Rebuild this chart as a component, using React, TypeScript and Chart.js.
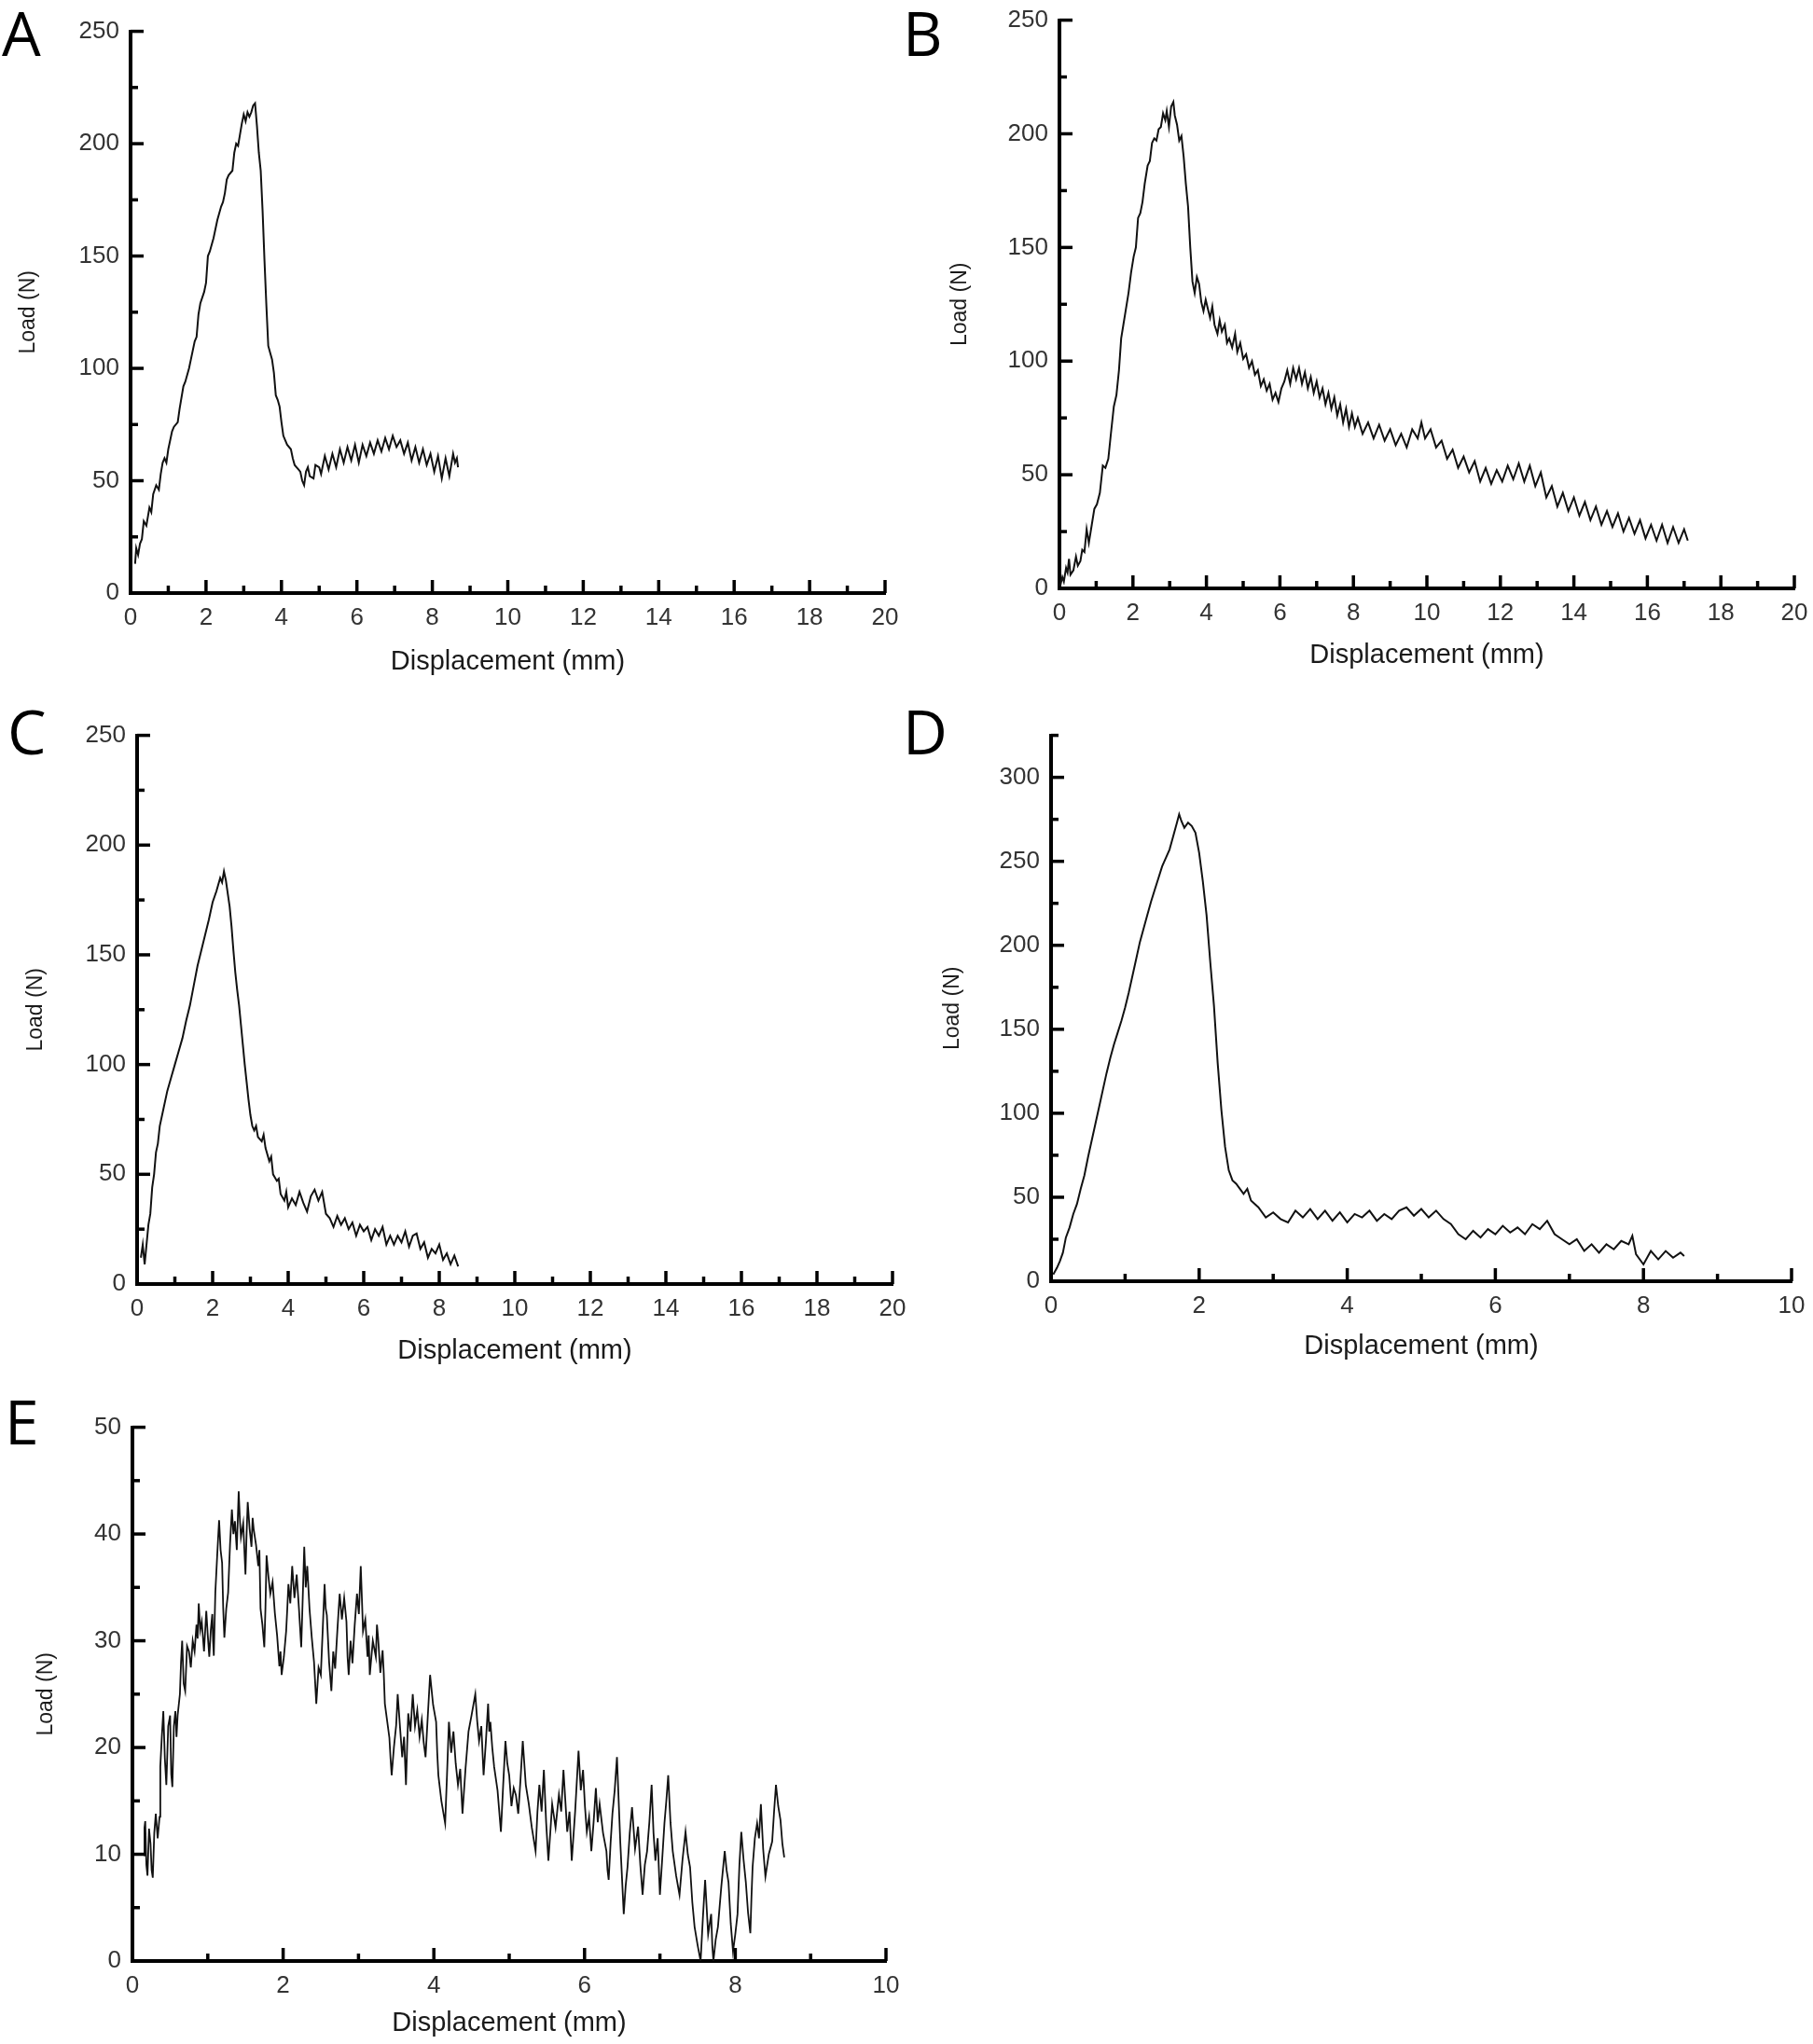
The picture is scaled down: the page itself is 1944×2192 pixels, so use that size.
import React, { useEffect, useRef } from "react";
import { Chart, registerables } from "chart.js";

Chart.register(...registerables);

// ---------- Data (displacement mm, load N) ----------
const A_X = [0.12, 0.15, 0.2, 0.25, 0.3, 0.35, 0.42, 0.5, 0.55, 0.6, 0.68, 0.75, 0.8, 0.85, 0.9, 0.95, 1.0, 1.1, 1.15, 1.25, 1.3, 1.4, 1.45, 1.55, 1.6, 1.7, 1.75, 1.8, 1.85, 1.95, 2.0, 2.05, 2.1, 2.2, 2.3, 2.4, 2.45, 2.5, 2.55, 2.6, 2.7, 2.75, 2.8, 2.85, 2.9, 2.95, 3.0, 3.05, 3.1, 3.15, 3.2, 3.25, 3.3, 3.35, 3.4, 3.45, 3.5, 3.55, 3.6, 3.65, 3.7, 3.75, 3.8, 3.85, 3.9, 3.95, 4.0, 4.05, 4.1, 4.15, 4.25, 4.3, 4.35, 4.4, 4.45, 4.5, 4.55, 4.6, 4.65, 4.7, 4.75, 4.85, 4.9, 5.0, 5.05, 5.15, 5.25, 5.35, 5.45, 5.55, 5.65, 5.75, 5.85, 5.95, 6.05, 6.15, 6.25, 6.35, 6.45, 6.55, 6.65, 6.75, 6.85, 6.95, 7.05, 7.15, 7.25, 7.35, 7.45, 7.55, 7.65, 7.75, 7.85, 7.95, 8.05, 8.15, 8.25, 8.35, 8.45, 8.55, 8.6, 8.65, 8.68];
const A_Y = [13, 20, 17, 22, 24, 32, 30, 38, 36, 44, 48, 46, 53, 58, 60, 58, 64, 72, 74, 76, 82, 92, 94, 100, 104, 112, 114, 124, 129, 134, 138, 150, 152, 158, 166, 172, 174, 178, 184, 186, 188, 196, 200, 199, 204, 209, 213, 210, 214, 212, 214, 217, 218, 208, 196, 188, 170, 148, 128, 110, 107, 104, 98, 88, 86, 83, 76, 70, 68, 66, 64, 60, 57, 56, 55, 54, 50, 48, 54, 56, 52, 51, 57, 56, 53, 61, 55, 62, 56, 64, 58, 65, 59, 66, 58, 66, 61, 67, 62, 68, 63, 69, 64, 70, 65, 68, 62, 67, 59, 65, 58, 64, 57, 62, 54, 61, 51, 60, 52, 62, 58, 60, 56];

const B_X = [0.02, 0.08, 0.12, 0.18, 0.22, 0.26, 0.3, 0.38, 0.45, 0.5, 0.57, 0.62, 0.68, 0.74, 0.8, 0.88, 0.95, 1.02, 1.1, 1.18, 1.25, 1.33, 1.4, 1.48, 1.55, 1.62, 1.68, 1.74, 1.8, 1.88, 1.95, 2.02, 2.08, 2.14, 2.2, 2.26, 2.32, 2.4, 2.46, 2.52, 2.58, 2.64, 2.7, 2.76, 2.82, 2.88, 2.92, 2.98, 3.04, 3.1, 3.14, 3.2, 3.26, 3.32, 3.38, 3.44, 3.5, 3.56, 3.62, 3.68, 3.74, 3.8, 3.86, 3.92, 3.98, 4.04, 4.1, 4.16, 4.22, 4.3, 4.36, 4.42, 4.5, 4.56, 4.62, 4.7, 4.78, 4.84, 4.92, 5.0, 5.08, 5.16, 5.24, 5.32, 5.4, 5.48, 5.56, 5.64, 5.72, 5.8, 5.88, 5.96, 6.04, 6.12, 6.2, 6.28, 6.36, 6.44, 6.52, 6.6, 6.68, 6.76, 6.84, 6.92, 7.0, 7.08, 7.16, 7.24, 7.32, 7.4, 7.48, 7.56, 7.64, 7.72, 7.8, 7.88, 7.96, 8.04, 8.12, 8.25, 8.4, 8.55, 8.7, 8.85, 9.0, 9.15, 9.3, 9.45, 9.6, 9.75, 9.85, 9.95, 10.1, 10.25, 10.4, 10.55, 10.7, 10.85, 11.0, 11.15, 11.3, 11.45, 11.6, 11.75, 11.9, 12.05, 12.2, 12.35, 12.5, 12.65, 12.8, 12.95, 13.1, 13.25, 13.4, 13.55, 13.7, 13.85, 14.0, 14.15, 14.3, 14.45, 14.6, 14.75, 14.9, 15.05, 15.2, 15.35, 15.5, 15.65, 15.8, 15.95, 16.1, 16.25, 16.4, 16.55, 16.7, 16.85, 17.0, 17.1];
const B_Y = [1, 5, 3, 9, 7, 13, 6, 8, 14, 10, 12, 17, 16, 26, 20, 28, 35, 37, 42, 54, 53, 57, 68, 80, 85, 96, 110, 116, 122, 130, 139, 146, 150, 163, 165, 170, 178, 186, 188, 196, 198, 197, 202, 203, 209, 206, 210, 203, 212, 214, 208, 204, 197, 199, 190, 178, 168, 150, 135, 130, 137, 134, 126, 122, 127, 123, 119, 124, 116, 112, 118, 113, 116, 108, 110, 106, 112, 104, 108, 101, 103, 97, 100, 94, 96, 89, 92, 87, 90, 83, 86, 82, 88, 91, 96, 90, 97, 92, 97, 90, 95, 88, 93, 86, 91, 84, 88, 81, 86, 79, 84, 76, 81, 73, 79, 71, 77, 71, 75, 68, 73, 66, 72, 65, 70, 63, 68, 62, 70, 66, 73, 66, 70, 62, 65, 57, 61, 53, 58, 51, 56, 47, 53, 46, 52, 47, 54, 48, 55, 47, 54, 45, 51, 40, 45, 36, 42, 34, 40, 32, 38, 30, 36, 28, 34, 27, 33, 25, 31, 24, 30, 22, 28, 21, 28, 20, 27, 20, 26, 21];

const C_X = [0.1, 0.15, 0.2, 0.25, 0.3, 0.35, 0.4, 0.45, 0.5, 0.55, 0.6, 0.7, 0.8, 0.9, 1.0, 1.1, 1.2, 1.3, 1.4, 1.5, 1.6, 1.7, 1.8, 1.9, 2.0, 2.1, 2.2, 2.25, 2.3, 2.35, 2.4, 2.45, 2.5, 2.55, 2.6, 2.65, 2.7, 2.75, 2.8, 2.85, 2.9, 2.95, 3.0, 3.05, 3.1, 3.15, 3.2, 3.3, 3.35, 3.4, 3.5, 3.55, 3.6, 3.7, 3.75, 3.8, 3.9, 3.95, 4.0, 4.1, 4.2, 4.3, 4.4, 4.5, 4.6, 4.7, 4.8, 4.9, 5.0, 5.1, 5.2, 5.3, 5.4, 5.5, 5.6, 5.7, 5.8, 5.9, 6.0, 6.1, 6.2, 6.3, 6.4, 6.5, 6.6, 6.7, 6.8, 6.9, 7.0, 7.1, 7.2, 7.3, 7.4, 7.5, 7.6, 7.7, 7.8, 7.9, 8.0, 8.1, 8.2, 8.3, 8.4, 8.5];
const C_Y = [12, 18, 9, 18, 27, 32, 44, 50, 60, 64, 72, 80, 88, 94, 100, 106, 112, 120, 127, 136, 145, 152, 159, 166, 174, 179, 185, 183, 188, 184, 178, 172, 163, 152, 142, 134, 127, 118, 109, 100, 92, 84, 77, 72, 70, 72, 67, 65, 68, 62, 56, 58, 50, 47, 48, 41, 38, 42, 35, 39, 36, 42, 37, 33, 40, 43, 38, 42, 32, 30, 26, 31, 27, 30, 25, 28, 22, 27, 24, 26, 20, 25, 22, 26, 18, 22, 18, 22, 19, 24, 17, 22, 23, 16, 19, 12, 16, 14, 18, 11, 14, 9, 13, 8];

const D_X = [0.03, 0.08, 0.12, 0.16, 0.2, 0.25, 0.3, 0.35, 0.4, 0.45, 0.5, 0.55, 0.6, 0.65, 0.7, 0.75, 0.8, 0.85, 0.9, 0.95, 1.0, 1.05, 1.1, 1.15, 1.2, 1.25, 1.3, 1.35, 1.4, 1.45, 1.5, 1.55, 1.6, 1.65, 1.7, 1.73, 1.76, 1.8, 1.85, 1.9, 1.95, 2.0, 2.05, 2.1, 2.15, 2.2, 2.25, 2.3, 2.35, 2.4, 2.45, 2.5, 2.55, 2.6, 2.65, 2.7, 2.8, 2.9, 3.0, 3.1, 3.2, 3.3, 3.4, 3.5, 3.6, 3.7, 3.8, 3.9, 4.0, 4.1, 4.2, 4.3, 4.4, 4.5, 4.6, 4.7, 4.8, 4.9, 5.0, 5.1, 5.2, 5.3, 5.4, 5.5, 5.6, 5.7, 5.8, 5.9, 6.0, 6.1, 6.2, 6.3, 6.4, 6.5, 6.6, 6.7, 6.8, 6.9, 7.0, 7.1, 7.2, 7.3, 7.4, 7.5, 7.6, 7.7, 7.8, 7.85, 7.9, 8.0, 8.1, 8.2, 8.3, 8.4, 8.5, 8.55];
const D_Y = [4, 8, 12, 17, 26, 32, 40, 46, 55, 63, 74, 84, 94, 104, 114, 124, 133, 141, 148, 155, 163, 172, 182, 192, 202, 210, 218, 226, 233, 240, 247, 252, 257, 265, 273, 278, 274, 270, 273, 271, 267, 255, 238, 218, 190, 164, 130, 102, 80, 66, 60, 58, 55, 52, 55, 48, 44, 38, 41, 37, 35, 42, 38, 43, 37, 42, 36, 41, 35, 40, 38, 42, 36, 40, 37, 42, 44, 39, 43, 38, 42, 37, 34, 28, 25, 30, 26, 31, 28, 33, 29, 32, 28, 34, 31, 36, 28, 25, 22, 25, 18, 22, 17, 22, 19, 24, 22, 27, 16, 10, 18, 13, 18, 14, 17, 15];

const E_X = [0.15, 0.16, 0.17, 0.185, 0.2, 0.22, 0.24, 0.255, 0.27, 0.29, 0.31, 0.335, 0.36, 0.37, 0.39, 0.41, 0.43, 0.45, 0.475, 0.5, 0.515, 0.53, 0.55, 0.57, 0.585, 0.6, 0.63, 0.645, 0.66, 0.68, 0.7, 0.725, 0.75, 0.775, 0.8, 0.825, 0.85, 0.865, 0.88, 0.9, 0.92, 0.95, 0.98, 1.0, 1.02, 1.04, 1.06, 1.07, 1.08, 1.1, 1.125, 1.15, 1.17, 1.19, 1.205, 1.22, 1.245, 1.27, 1.295, 1.32, 1.34, 1.36, 1.385, 1.41, 1.425, 1.44, 1.47, 1.5, 1.515, 1.53, 1.555, 1.58, 1.595, 1.61, 1.64, 1.67, 1.685, 1.7, 1.725, 1.75, 1.765, 1.78, 1.805, 1.83, 1.86, 1.89, 1.92, 1.95, 1.965, 1.98, 2.01, 2.04, 2.055, 2.07, 2.095, 2.12, 2.15, 2.18, 2.21, 2.24, 2.26, 2.28, 2.3, 2.32, 2.35, 2.38, 2.41, 2.44, 2.47, 2.5, 2.525, 2.55, 2.565, 2.58, 2.61, 2.64, 2.665, 2.69, 2.72, 2.75, 2.78, 2.81, 2.84, 2.855, 2.87, 2.895, 2.92, 2.95, 2.98, 3.005, 3.03, 3.045, 3.06, 3.09, 3.12, 3.135, 3.15, 3.19, 3.23, 3.245, 3.26, 3.29, 3.32, 3.335, 3.35, 3.38, 3.41, 3.425, 3.44, 3.47, 3.5, 3.51, 3.52, 3.55, 3.58, 3.605, 3.63, 3.645, 3.66, 3.69, 3.72, 3.75, 3.78, 3.81, 3.84, 3.865, 3.89, 3.92, 3.95, 3.99, 4.03, 4.045, 4.06, 4.1, 4.15, 4.175, 4.2, 4.23, 4.26, 4.29, 4.32, 4.35, 4.38, 4.42, 4.46, 4.5, 4.55, 4.575, 4.6, 4.63, 4.66, 4.69, 4.72, 4.735, 4.75, 4.775, 4.8, 4.845, 4.89, 4.92, 4.95, 4.975, 5.0, 5.03, 5.06, 5.09, 5.12, 5.15, 5.18, 5.22, 5.26, 5.3, 5.35, 5.375, 5.4, 5.43, 5.46, 5.49, 5.52, 5.545, 5.57, 5.615, 5.66, 5.69, 5.72, 5.745, 5.77, 5.8, 5.83, 5.875, 5.92, 5.95, 5.98, 6.005, 6.03, 6.06, 6.09, 6.12, 6.15, 6.175, 6.2, 6.245, 6.29, 6.305, 6.32, 6.345, 6.37, 6.4, 6.43, 6.475, 6.52, 6.545, 6.57, 6.6, 6.63, 6.67, 6.71, 6.74, 6.77, 6.8, 6.83, 6.86, 6.89, 6.915, 6.94, 6.97, 7.0, 7.03, 7.06, 7.085, 7.11, 7.14, 7.17, 7.215, 7.26, 7.3, 7.34, 7.37, 7.4, 7.43, 7.46, 7.5, 7.54, 7.57, 7.6, 7.64, 7.68, 7.695, 7.71, 7.74, 7.77, 7.815, 7.86, 7.885, 7.91, 7.94, 7.97, 8.0, 8.03, 8.055, 8.08, 8.11, 8.14, 8.17, 8.2, 8.215, 8.23, 8.26, 8.29, 8.315, 8.34, 8.37, 8.4, 8.445, 8.49, 8.515, 8.54, 8.57, 8.6, 8.625, 8.65];
const E_Y = [9.9, 12.5, 13.1, 9, 8.0, 12.4, 11.0, 8.5, 7.8, 12, 13.8, 11.5, 13.5, 18.2, 21, 23.4, 19, 16.5, 22, 23.0, 17.5, 16.3, 22, 23.4, 21, 23.0, 25.0, 28, 30.0, 26, 25.3, 29.5, 29.0, 27.5, 30.0, 29, 31.5, 30.2, 33.5, 31, 31.8, 29, 32.8, 30.5, 28.5, 31, 32.5, 30, 28.6, 34.5, 38, 41.3, 38.5, 37.3, 33, 30.3, 33, 34.5, 39, 42.3, 40, 41.2, 38.5, 44.0, 41.5, 39.7, 41, 36.2, 40, 43.0, 40.5, 38.8, 41.5, 40.4, 39, 37.0, 38.5, 33.0, 31.5, 29.4, 33, 38.0, 36, 34.4, 35.5, 32.6, 30.5, 27.6, 29, 26.8, 28.5, 30.9, 33, 35.3, 33.5, 37.0, 34, 36.2, 33, 29.4, 34, 38.8, 35, 37.0, 33, 30.3, 28, 24.1, 27.5, 26.8, 31, 35.3, 33, 32.4, 28, 25.3, 29, 27.4, 31, 34.4, 32, 34, 31.8, 28.5, 26.8, 30, 27.9, 31.5, 34.4, 32.5, 37.0, 34, 30.9, 32, 28.5, 30.5, 26.8, 30, 28.5, 31.5, 30.3, 27, 29.1, 27, 24.1, 22.5, 20.9, 19, 17.4, 20, 22.1, 23.5, 25.0, 22, 19.1, 21, 16.5, 20, 23.2, 21.5, 25.0, 22, 23.5, 21, 22.6, 20.5, 19.1, 23, 26.8, 24, 22.4, 19.5, 17.4, 15, 12.9, 17.5, 22.4, 19.5, 21.5, 18.5, 16.5, 18, 13.8, 18, 21.5, 23, 25.0, 22.5, 20.6, 22, 17.4, 20.5, 24.1, 21.5, 22.4, 20, 18.2, 16, 12.1, 16.5, 20.6, 18.5, 17.4, 14.5, 16.2, 15.5, 13.8, 17, 20.6, 16.5, 14.7, 12.5, 10.3, 14, 16.5, 14, 17.9, 13, 9.4, 12, 14.7, 12.5, 15.6, 14, 17.9, 15, 12.1, 14, 9.4, 14, 19.7, 16, 17.9, 14.5, 12.1, 13.5, 10.3, 13, 16.2, 13, 14.7, 12, 10.3, 8.5, 7.6, 11, 13.8, 16, 19.1, 11, 4.4, 7, 8.8, 12, 14.4, 10.5, 12.6, 9, 6.2, 9, 10.3, 13, 16.5, 12, 9.4, 11.5, 6.2, 9.5, 12.9, 15, 17.4, 13, 10.3, 8, 6.2, 9.5, 12.1, 10, 8.8, 5.5, 3.2, 1.5, 0.0, 4, 7.6, 2.5, 4.4, 1.5, 0.0, 2, 3.2, 7, 10.3, 8.5, 7.4, 3.5, 0.9, 2.5, 4.4, 9, 12.1, 9.5, 7.4, 4.5, 2.6, 6, 8.8, 11.5, 12.9, 11.5, 14.7, 10.5, 7.9, 10, 11.2, 14, 16.5, 14.5, 13.2, 11, 9.7];

// Axis settings
const X_TITLE = "Displacement (mm)";
const Y_TITLE = "Load (N)";
const PANEL_LETTERS = ["A", "B", "C", "D", "E"];

const TICK_FONT = { family: "'Liberation Sans', Arial, sans-serif", size: 26 };
const XTITLE_FONT = { family: "'Liberation Sans', Arial, sans-serif", size: 29 };
const YTITLE_FONT = { family: "'Liberation Sans', Arial, sans-serif", size: 23 };

const innerTicks = {
  id: "innerTicks",
  afterDraw(chart: any, _args: any, opts: any) {
    const ctx = chart.ctx;
    const area = chart.chartArea;
    ctx.save();
    ctx.strokeStyle = "#000";
    ctx.lineWidth = 3.5;
    const draw = (scale: any, step: number, horizontal: boolean) => {
      const half = step / 2;
      const n = Math.round((scale.max - scale.min) / half);
      for (let k = 1; k <= n; k++) {
        const v = scale.min + k * half;
        const p = scale.getPixelForValue(v);
        const len = k % 2 === 0 ? 14 : 8;
        ctx.beginPath();
        if (horizontal) {
          ctx.moveTo(p, area.bottom);
          ctx.lineTo(p, area.bottom - len);
        } else {
          ctx.moveTo(area.left, p);
          ctx.lineTo(area.left + len, p);
        }
        ctx.stroke();
      }
    };
    draw(chart.scales.x, opts.xStep, true);
    draw(chart.scales.y, opts.yStep, false);
    ctx.restore();
  },
};

type PanelProps = {
  xs: number[];
  ys: number[];
  left: number;
  right: number;
  top: number;
  bottom: number;
  xMax: number;
  xStep: number;
  yMax: number;
  yStep: number;
  yW: number;
  xH: number;
  lw?: number;
};

const PAD_TOP = 25;
const PAD_RIGHT = 35;

function Panel(p: PanelProps) {
  const ref = useRef<HTMLCanvasElement | null>(null);
  const cw = p.yW + (p.right - p.left) + PAD_RIGHT;
  const ch = PAD_TOP + (p.bottom - p.top) + p.xH;
  useEffect(() => {
    if (!ref.current) return;
    const keepStep = (step: number) => (s: any) => {
      s.ticks = s.ticks.filter((t: any) => Math.abs(t.value / step - Math.round(t.value / step)) < 1e-6);
    };
    const chart = new Chart(ref.current, {
      type: "line",
      data: {
        datasets: [
          {
            data: p.xs.map((x, i) => ({ x, y: p.ys[i] })),
            borderColor: "#111",
            borderWidth: p.lw ?? 2,
            pointRadius: 0,
            tension: 0,
            fill: false,
          },
        ],
      },
      options: {
        animation: false,
        responsive: false,
        maintainAspectRatio: false,
        layout: { padding: { top: PAD_TOP, right: PAD_RIGHT, left: 0, bottom: 0 } },
        plugins: {
          legend: { display: false },
          tooltip: { enabled: false },
          innerTicks: { xStep: p.xStep, yStep: p.yStep },
        } as any,
        scales: {
          x: {
            type: "linear",
            min: 0,
            max: p.xMax,
            afterFit: (s: any) => {
              s.height = p.xH;
            },
            afterBuildTicks: keepStep(p.xStep),
            ticks: { stepSize: p.xStep, padding: 11, color: "#333", font: TICK_FONT, maxRotation: 0, autoSkip: false },
            grid: { display: true, drawOnChartArea: false, drawTicks: false },
            border: { display: true, color: "#000", width: 4 },
            title: { display: true, text: X_TITLE, color: "#1a1a1a", font: XTITLE_FONT, padding: 0 },
          },
          y: {
            type: "linear",
            min: 0,
            max: p.yMax,
            afterFit: (s: any) => {
              s.width = p.yW;
            },
            afterBuildTicks: keepStep(p.yStep),
            ticks: { stepSize: p.yStep / 2, padding: 12, color: "#333", font: TICK_FONT, autoSkip: false },
            grid: { display: true, drawOnChartArea: false, drawTicks: false },
            border: { display: true, color: "#000", width: 4 },
            title: { display: true, text: Y_TITLE, color: "#1a1a1a", font: YTITLE_FONT, padding: 0 },
          },
        },
      },
      plugins: [innerTicks as any],
    });
    return () => chart.destroy();
  }, []);
  return (
    <canvas
      ref={ref}
      width={cw}
      height={ch}
      style={{ position: "absolute", left: p.left - p.yW, top: p.top - PAD_TOP, width: cw, height: ch }}
    />
  );
}

const letterStyle = (left: number, top: number): React.CSSProperties => ({
  position: "absolute",
  left,
  top,
  fontFamily: "'Open Sans', Lato, sans-serif",
  fontSize: 66,
  lineHeight: "66px",
  color: "#000",
});

export default function App() {
  return (
    <div style={{ position: "absolute", left: 0, top: 0, width: 1944, height: 2192, background: "#fff", overflow: "hidden" }}>
      <Panel xs={A_X} ys={A_Y} left={140} right={949} top={31} bottom={636} xMax={20} xStep={2} yMax={250} yStep={50} yW={123} xH={91} />
      <Panel xs={B_X} ys={B_Y} left={1136} right={1924} top={19} bottom={631} xMax={20} xStep={2} yMax={250} yStep={50} yW={120} xH={89} />
      <Panel xs={C_X} ys={C_Y} left={147} right={957} top={786} bottom={1377} xMax={20} xStep={2} yMax={250} yStep={50} yW={122} xH={89} />
      <Panel xs={D_X} ys={D_Y} left={1127} right={1921} top={786} bottom={1374} xMax={10} xStep={2} yMax={325} yStep={50} yW={119} xH={87} />
      <Panel xs={E_X} ys={E_Y} left={142} right={950} top={1528} bottom={2103} xMax={10} xStep={2} yMax={50} yStep={10} yW={106} xH={84} lw={1.8} />
      <div style={letterStyle(2, 1)}>{PANEL_LETTERS[0]}</div>
      <div style={letterStyle(968, 1)}>{PANEL_LETTERS[1]}</div>
      <div style={letterStyle(8, 750)}>{PANEL_LETTERS[2]}</div>
      <div style={letterStyle(968, 750)}>{PANEL_LETTERS[3]}</div>
      <div style={letterStyle(5, 1490)}>{PANEL_LETTERS[4]}</div>
    </div>
  );
}
